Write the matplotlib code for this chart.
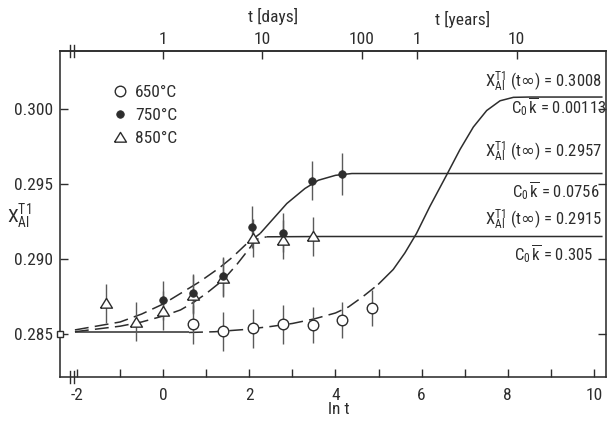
import numpy as np
import matplotlib
matplotlib.use("Agg")
import matplotlib.pyplot as plt
import matplotlib.transforms as mtransforms
from matplotlib import font_manager

# pick a narrow sans face if one is installed
_names = {f.name for f in font_manager.fontManager.ttflist}
BASE = 'DejaVu Sans'
for cand in ['Roboto Condensed', 'Liberation Sans Narrow', 'Open Sans Condensed',
             'Liberation Sans']:
    if cand in _names:
        BASE = cand
        break
FS = 12.5 if ('Condensed' in BASE or 'Narrow' in BASE) else 11.5

plt.rcParams['font.family'] = [BASE, 'DejaVu Sans']
plt.rcParams['mathtext.fontset'] = 'custom'
plt.rcParams['mathtext.rm'] = BASE
plt.rcParams['mathtext.it'] = BASE
plt.rcParams['mathtext.bf'] = BASE
plt.rcParams['mathtext.sf'] = 'DejaVu Sans'
plt.rcParams['lines.scale_dashes'] = False

INK = '#2d2d2d'
BAR = '#5a5a5a'

# ---- measured site fractions X_Al^T1 versus ln t (t in days) ----
lnt_650 = [0.69, 1.39, 2.08, 2.77, 3.47, 4.14, 4.84]
x_650 = [0.28565, 0.28518, 0.28538, 0.28566, 0.28560, 0.28592, 0.28676]
err_650 = [0.0013, 0.0013, 0.0013, 0.0013, 0.0012, 0.0012, 0.0012]

lnt_750 = [0.00, 0.69, 1.39, 2.05, 2.77, 3.45, 4.14]
x_750 = [0.28724, 0.28772, 0.28885, 0.29216, 0.29175, 0.29522, 0.29565]
err_750 = [0.0013, 0.0013, 0.0013, 0.0014, 0.0013, 0.0013, 0.0014]

lnt_850 = [-1.33, -0.63, 0.00, 0.69, 1.39, 2.08, 2.77, 3.47]
x_850 = [0.28705, 0.28580, 0.28656, 0.28760, 0.28875, 0.29140, 0.29130, 0.29152]
err_850 = [0.0013, 0.0013, 0.0013, 0.0013, 0.0013, 0.0013, 0.0013, 0.0013]

# starting value (t = 0), shown on the axis break
x_start = 0.2850

# ---- fitted kinetic curves ----
fit650_lnt = [-2.05, -1.0, 0.0, 0.6, 1.2, 1.9, 2.5, 3.0, 3.5, 4.0, 4.3, 4.64,
              4.99, 5.34, 5.61, 5.88, 6.19, 6.58, 6.89, 7.2, 7.51, 7.82, 8.13,
              8.5, 10.2]
fit650_x = [0.2851, 0.2851, 0.2851, 0.2851, 0.28515, 0.2853, 0.2855, 0.2857,
            0.2860, 0.2864, 0.2868, 0.2875, 0.2883, 0.2893, 0.2904, 0.2917,
            0.2935, 0.2956, 0.2973, 0.2988, 0.2999, 0.30055, 0.30078, 0.3008,
            0.3008]

fit750_lnt = [-2.05, -1.0, -0.5, 0.0, 0.4, 0.85, 1.3, 1.6, 1.93, 2.25, 2.56,
              2.87, 3.29, 3.6, 4.0, 4.38, 10.2]
fit750_x = [0.28527, 0.2858, 0.28633, 0.2870, 0.2877, 0.28849, 0.2894, 0.2901,
            0.2910, 0.2917, 0.2927, 0.2937, 0.2947, 0.29525, 0.29558, 0.2957,
            0.2957]

fit850_lnt = [-2.05, -1.0, -0.5, 0.0, 0.4, 0.7, 1.0, 1.39, 1.7, 2.0, 2.15,
              2.4, 3.7, 10.2]
fit850_x = [0.28515, 0.28552, 0.2858, 0.2862, 0.2866, 0.2871, 0.2877, 0.2886,
            0.2896, 0.2907, 0.2913, 0.29148, 0.2915, 0.2915]

# limiting values and rate constants of the fits
xinf = ['0.3008', '0.2957', '0.2915']
c0k = ['0.00113', '0.0756', '0.305']

# tick values
xticks_bottom = [-2, 0, 2, 4, 6, 8, 10]
yticks = [0.285, 0.290, 0.295, 0.300]
ytick_labels = ['0.285', '0.290', '0.295', '0.300']
top_days = [1, 10, 100, 365, 3650]
top_labels = ['1', '10', '100', '1', '10']

fig = plt.figure(figsize=(6.08, 4.25), dpi=100)
ax = fig.add_axes([0.0987, 0.1129, 0.8980, 0.7671])
ax.set_xlim(-2.396, 10.28)
ax.set_ylim(0.28213, 0.30387)

for s in ax.spines.values():
    s.set_color(INK)
    s.set_linewidth(1.15)


def draw_fit(lnt, xv, pieces):
    lnt = np.asarray(lnt)
    xv = np.asarray(xv)
    for lo, hi, dashed in pieces:
        m = (lnt >= lo) & (lnt <= hi)
        ln, = ax.plot(lnt[m], xv[m], color=INK, lw=1.1, zorder=2,
                      solid_capstyle='butt')
        if dashed:
            ln.set_dashes((10, 4.5))


draw_fit(fit650_lnt, fit650_x, [(-3, 0.6, False), (0.6, 4.99, True),
                                (4.99, 11, False)])
draw_fit(fit750_lnt, fit750_x, [(-3, 2.25, True), (2.25, 11, False)])
draw_fit(fit850_lnt, fit850_x, [(-3, 2.4, True), (2.4, 11, False)])

tri = [(-1.0, -0.78), (1.0, -0.78), (0.0, 0.85), (-1.0, -0.78)]

# error bars
for lnt, xv, er in [(lnt_650, x_650, err_650), (lnt_750, x_750, err_750),
                    (lnt_850, x_850, err_850)]:
    ax.errorbar(lnt, xv, yerr=er, fmt='none', ecolor=BAR, elinewidth=1.0,
                capsize=0, zorder=3)

h850, = ax.plot(lnt_850, x_850, ls='none', marker=tri, ms=8.6, mfc='white',
                mec=INK, mew=1.0, zorder=4, label='850°C')
h650, = ax.plot(lnt_650, x_650, ls='none', marker='o', ms=7.6, mfc='white',
                mec=INK, mew=1.0, zorder=4, label='650°C')
h750, = ax.plot(lnt_750, x_750, ls='none', marker='o', ms=5.4, mfc=INK,
                mec=INK, mew=0.6, zorder=5, label='750°C')
ax.plot([ax.get_xlim()[0]], [x_start], ls='none', marker='s', ms=5.0,
        mfc='white', mec=INK, mew=1.0, zorder=6, clip_on=False)

trb = mtransforms.blended_transform_factory(ax.transData, ax.transAxes)

# axis break marks near the left end
for xb in (-2.17, -2.07):
    for yb in (0, 1):
        ax.plot([xb, xb], [yb - 0.018, yb + 0.018], color=INK, lw=1.0,
                transform=trb, clip_on=False, zorder=6)

# bottom axis
ax.set_xticks(np.arange(-2, 11, 1))
ax.set_xticklabels([str(v) if v in xticks_bottom else '' for v in range(-2, 11)])
ax.tick_params(axis='x', which='major', direction='in', length=6, width=1.0,
               color=INK, labelcolor=INK, labelsize=FS, pad=8, top=False)
ax.set_yticks(yticks)
ax.set_yticklabels(ytick_labels)
ax.tick_params(axis='y', which='major', direction='in', length=6, width=1.0,
               color=INK, labelcolor=INK, labelsize=FS, pad=5, right=True)
ax.set_xlabel('ln t', fontsize=FS, color=INK)
ax.xaxis.set_label_coords(0.511, -0.078)

ax.text(-0.075, 0.49, r'$\mathrm{X}_{\mathrm{Al}}^{\mathrm{T1}}$',
        transform=ax.transAxes, ha='center', va='center', fontsize=FS + 1.5,
        color=INK)

# top axis: time in days and years
sec = ax.secondary_xaxis('top', functions=(np.exp, np.log))
sec.set_xticks(top_days)
sec.set_xticklabels(top_labels)
sec.tick_params(direction='in', length=6, width=1.0, color=INK,
                labelcolor=INK, labelsize=FS, pad=3)
sec.spines['top'].set_color(INK)
sec.spines['top'].set_linewidth(1.15)
ax.text(2.55, 1.105, 't [days]', transform=trb, ha='center', va='center',
        fontsize=FS, color=INK)
ax.text(6.96, 1.098, 't [years]', transform=trb, ha='center', va='center',
        fontsize=FS, color=INK)

# legend
ax.legend(handles=[h650, h750, h850], loc='upper left',
          bbox_to_anchor=(0.095, 0.895), frameon=False, fontsize=FS,
          handlelength=0.9, handletextpad=0.45, labelspacing=0.45,
          borderpad=0, borderaxespad=0, labelcolor=INK)

# fit parameters at the right
lab_y_x = [0.30147, 0.2968, 0.29227]
lab_y_k = [0.29973, 0.29413, 0.28993]
lab_xx = [10.19, 10.19, 10.19]
lab_xk = [10.30, 10.14, 9.98]
for i in range(3):
    ax.text(lab_xx[i], lab_y_x[i],
            r'$\mathrm{X}_{\mathrm{Al}}^{\mathrm{T1}}$ (t$\mathsf{\infty}$) = '
            + xinf[i],
            ha='right', va='baseline', fontsize=FS - 0.5, color=INK,
            clip_on=False)
    ax.text(lab_xk[i], lab_y_k[i],
            r'C$_0\,\overline{\mathrm{k}}$ = ' + c0k[i],
            ha='right', va='baseline', fontsize=FS - 0.5, color=INK,
            clip_on=False)

fig.savefig('out.png', dpi=100, facecolor='white')
